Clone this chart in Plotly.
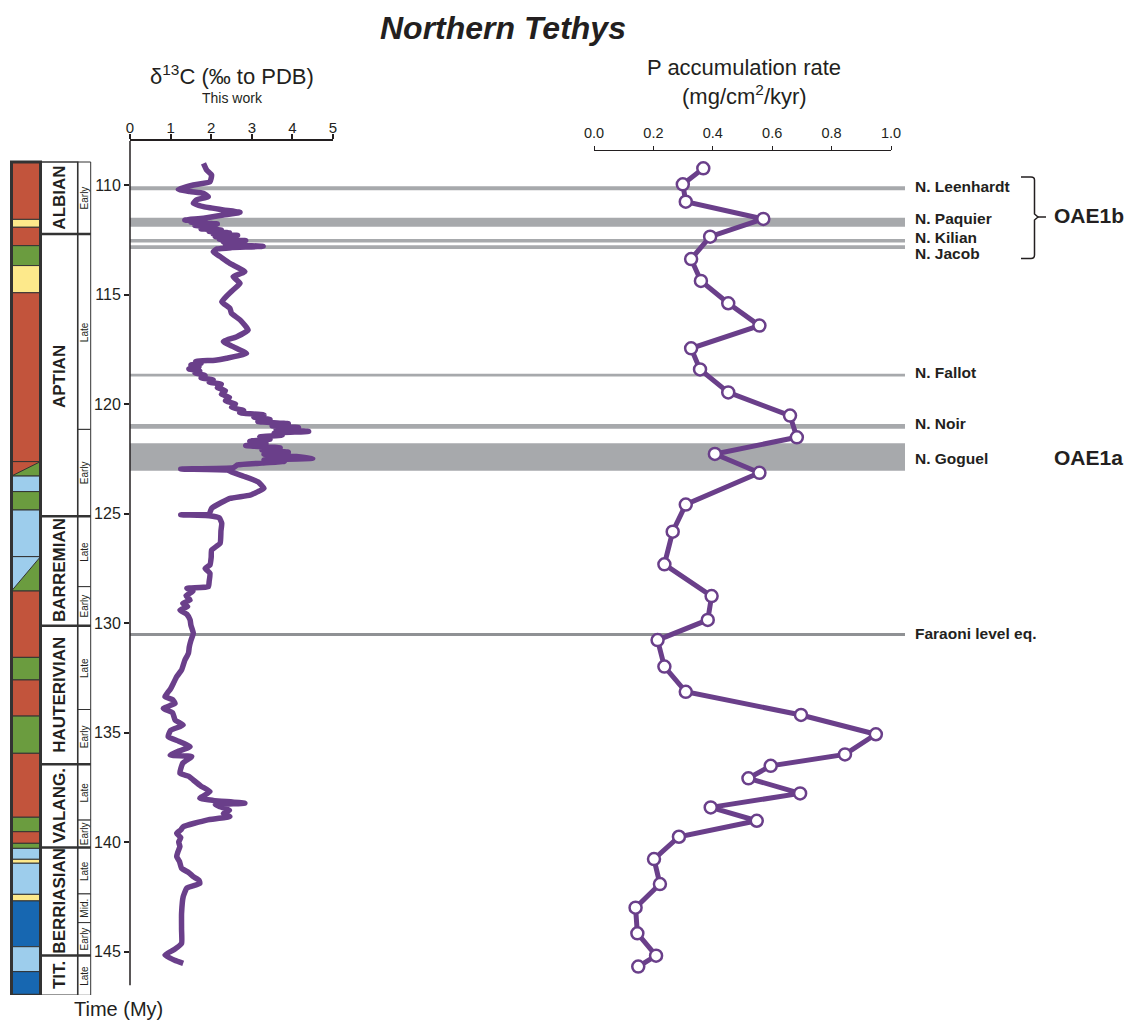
import plotly.graph_objects as go

# page body has an 8px margin; the figure is sized to fill the rest of the window
OFF = 8
W, H = 1134 - OFF, 1021 - OFF
def PX(x): return (x - OFF) / W
def PY(y): return 1 - (y - OFF) / H

INK = "#231f20"
PURPLE = "#6a3f8a"
GRAY = "#a7a9ac"
GRAY_DARK = "#8f9194"
FONT = "Liberation Sans, Arial, sans-serif"

# ---------------- data ----------------
d13c_age = [109.01, 109.32, 109.54, 109.85, 110.00, 110.20, 110.30, 110.38, 110.53, 110.68,
            110.84, 110.99, 111.14, 111.25, 111.37, 111.52, 111.60, 111.65, 111.70, 111.78,
            111.85, 111.92, 112.00, 112.06, 112.12, 112.18, 112.24, 112.30, 112.36, 112.42,
            112.48, 112.54, 112.60, 112.66, 112.72, 112.80, 112.86, 112.92, 113.05, 113.27,
            113.58, 113.96, 114.19, 114.49, 114.79, 115.33, 115.63, 115.86, 116.16, 116.62,
            116.93, 117.15, 117.38, 117.69, 117.91, 118.00, 118.05, 118.15, 118.22, 118.30,
            118.40, 118.50, 118.58, 118.70, 118.80, 118.90, 119.00, 119.10, 119.25, 119.40,
            119.55, 119.70, 119.85, 120.00, 120.15, 120.30, 120.40, 120.50, 120.60, 120.70,
            120.80, 120.90, 121.00, 121.08, 121.16, 121.25, 121.33, 121.42, 121.50, 121.60,
            121.70, 121.80, 121.90, 122.00, 122.10, 122.20, 122.30, 122.40, 122.48, 122.55,
            122.62, 122.70, 122.78, 122.90, 122.97, 123.02, 123.10, 123.30, 123.55, 123.85,
            124.00, 124.16, 124.31, 124.50, 124.76, 125.02, 125.06, 125.10, 125.20, 125.45,
            125.80, 126.36, 126.67, 127.00, 127.35, 127.50, 127.73, 128.10, 128.34, 128.42,
            128.55, 128.75, 128.95, 129.10, 129.25, 129.41, 129.60, 129.86, 130.10, 130.47,
            130.80, 131.10, 131.38, 131.70, 132.15, 132.45, 132.75, 133.00, 133.20, 133.36,
            133.50, 133.67, 133.90, 134.10, 134.43, 134.66, 134.90, 135.19, 135.40, 135.65,
            135.85, 136.03, 136.10, 136.40, 136.86, 137.00, 137.17, 137.45, 137.70, 138.00,
            138.10, 138.23, 138.30, 138.39, 138.55, 138.70, 138.84, 139.00, 139.30, 139.45,
            139.61, 139.80, 140.00, 140.21, 140.45, 140.67, 140.90, 141.20, 141.40, 141.58,
            141.75, 141.89, 142.10, 142.50, 143.26, 144.00, 144.63, 144.90, 145.16, 145.40,
            145.54]
d13c_val = [1.81, 1.89, 2.01, 1.97, 1.56, 1.19, 1.48, 1.81, 1.93, 1.64,
            1.56, 1.81, 2.30, 2.71, 2.30, 1.81, 1.35, 1.85, 1.50, 2.15,
            1.60, 2.10, 1.75, 2.25, 1.95, 2.45, 2.05, 2.65, 2.10, 2.55,
            2.20, 2.85, 2.30, 2.70, 2.35, 3.28, 2.50, 2.15, 2.05, 2.22,
            2.46, 2.83, 2.54, 2.71, 2.54, 2.26, 2.46, 2.50, 2.71, 2.91,
            2.63, 2.30, 2.54, 2.87, 2.38, 2.10, 1.62, 1.75, 1.50, 1.70,
            1.45, 1.72, 1.60, 1.85, 1.75, 2.05, 1.95, 2.25, 2.15, 2.35,
            2.25, 2.45, 2.35, 2.60, 2.50, 2.80, 2.70, 3.30, 3.05, 3.45,
            3.15, 3.90, 3.50, 4.15, 3.60, 4.40, 3.55, 3.75, 3.20, 3.45,
            2.95, 3.35, 2.85, 3.70, 3.25, 3.90, 3.30, 4.10, 4.50, 3.30,
            3.80, 3.25, 2.65, 2.55, 1.25, 2.40, 2.50, 2.80, 3.15, 3.30,
            3.15, 2.96, 2.46, 2.25, 2.01, 1.95, 1.25, 1.95, 2.20, 2.26,
            2.24, 2.22, 2.01, 2.00, 1.97, 1.85, 1.97, 1.95, 1.93, 1.40,
            1.55, 1.38, 1.48, 1.30, 1.42, 1.23, 1.40, 1.48, 1.50, 1.56,
            1.50, 1.46, 1.44, 1.35, 1.27, 1.15, 1.07, 1.00, 0.92, 0.86,
            1.05, 1.11, 0.82, 1.05, 1.11, 1.31, 1.00, 0.94, 1.20, 1.48,
            1.20, 0.99, 1.52, 1.30, 1.23, 1.45, 1.56, 1.75, 1.97, 1.72,
            2.05, 2.83, 2.10, 2.22, 2.45, 2.30, 2.46, 1.89, 1.31, 1.25,
            1.15, 1.25, 1.20, 1.23, 1.18, 1.15, 1.22, 1.27, 1.45, 1.56,
            1.70, 1.72, 1.40, 1.31, 1.27, 1.27, 1.27, 1.10, 0.86, 1.10,
            1.31]

p_age = [109.24, 109.97, 110.76, 111.55, 112.36, 113.38, 114.38, 115.40, 116.42, 117.46,
         118.42, 119.47, 120.53, 121.52, 122.28, 123.14, 124.59, 125.83, 127.32, 128.77,
         129.86, 130.78, 131.99, 133.14, 134.20, 135.08, 136.00, 136.52, 137.09, 137.78,
         138.42, 139.03, 139.76, 140.78, 141.92, 143.00, 144.17, 145.19, 145.69]
p_val = [0.368, 0.299, 0.309, 0.570, 0.391, 0.327, 0.360, 0.452, 0.557, 0.327,
         0.357, 0.452, 0.660, 0.683, 0.407, 0.557, 0.309, 0.265, 0.237, 0.396,
         0.383, 0.214, 0.237, 0.309, 0.697, 0.949, 0.845, 0.595, 0.520, 0.694,
         0.393, 0.548, 0.286, 0.202, 0.222, 0.140, 0.146, 0.209, 0.149]

event_names = ["N. Leenhardt", "N. Paquier", "N. Kilian", "N. Jacob",
               "N. Fallot", "N. Noir", "N. Goguel", "Faraoni level eq."]
event_top = [110.06, 111.50, 112.47, 112.75, 118.62, 120.91, 121.79, 130.46]
event_bottom = [110.24, 111.91, 112.63, 112.92, 118.75, 121.13, 123.05, 130.59]
event_label_age = [110.05, 111.55, 112.42, 113.15, 118.54, 120.87, 122.47, 130.46]

stage_names = ["ALBIAN", "APTIAN", "BARREMIAN", "HAUTERIVIAN", "VALANG.", "BERRIASIAN", "TIT."]
stage_bounds = [108.95, 112.24, 125.12, 130.12, 136.45, 140.25, 145.18, 147.0]
stage_label_age = [110.6, 118.75, 127.6, 133.3, 138.35, 142.7, 146.1]

substage_names = ["Early", "Late", "Early", "Late", "Early", "Late", "Early",
                  "Late", "Early", "Late", "Mid.", "Early", "Late"]
substage_bounds = [108.95, 112.24, 121.16, 125.12, 128.34, 130.12, 133.95, 136.45,
                   139.0, 140.25, 142.37, 143.68, 145.18, 147.0]

LITHO = {"marl": "#c2543c", "chalk": "#fde98b", "limestone": "#6b9c3f",
         "lightblue": "#9dcdec", "darkblue": "#1767b1"}
litho_top = [108.95, 111.57, 111.93, 112.77, 113.68, 114.92, 122.63, 123.29, 124.00, 124.84,
             126.97, 128.54, 131.57, 132.60, 134.25, 135.95, 138.87, 139.53, 140.06, 140.29,
             140.79, 140.97, 142.39, 142.69, 144.78, 145.92]
litho_bottom = [111.57, 111.93, 112.77, 113.68, 114.92, 122.63, 123.29, 124.00, 124.84, 126.97,
                128.54, 131.57, 132.60, 134.25, 135.95, 138.87, 139.53, 140.06, 140.29, 140.79,
                140.97, 142.39, 142.69, 144.78, 145.92, 147.0]
litho_kind = ["marl", "chalk", "marl", "limestone", "chalk", "marl", "limestone", "lightblue",
              "limestone", "lightblue", "limestone", "marl", "limestone", "marl", "limestone",
              "marl", "limestone", "marl", "limestone", "lightblue", "chalk", "lightblue",
              "chalk", "darkblue", "lightblue", "darkblue"]
# transitional cells (upper-left triangle colour)
litho_upper = {6: "marl", 10: "lightblue"}

# ---------------- figure ----------------
fig = go.Figure()

fig.add_trace(go.Scatter(x=d13c_val, y=d13c_age, xaxis="x", yaxis="y", mode="lines",
                         line=dict(color=PURPLE, width=5.5, shape="spline", smoothing=0.4),
                         showlegend=False, hoverinfo="skip"))
fig.add_trace(go.Scatter(x=p_val, y=p_age, xaxis="x2", yaxis="y", mode="lines+markers",
                         line=dict(color=PURPLE, width=5),
                         marker=dict(size=12, color="white", line=dict(color=PURPLE, width=2.5)),
                         showlegend=False, hoverinfo="skip"))

shapes = []
ann = []

# event bands
for i, nm in enumerate(event_names):
    col = GRAY_DARK if nm.startswith("Faraoni") else GRAY
    shapes.append(dict(type="rect", xref="paper", yref="y", x0=PX(130), x1=PX(905),
                       y0=event_top[i], y1=event_bottom[i], fillcolor=col,
                       line=dict(width=0), layer="below"))
    ann.append(dict(text="<b>%s</b>" % nm, xref="paper", yref="y", x=PX(913),
                    y=event_label_age[i], xanchor="left", yanchor="middle", showarrow=False,
                    font=dict(size=15.5, color=INK, family=FONT)))

# y axis line
shapes.append(dict(type="line", xref="paper", yref="y", x0=PX(130), x1=PX(130),
                   y0=107.99, y1=146.54, line=dict(color=INK, width=1.5)))

# lithology column
LX0, LX1 = PX(11.5), PX(40.5)
for i in range(len(litho_top)):
    shapes.append(dict(type="rect", xref="paper", yref="y", x0=LX0, x1=LX1,
                       y0=litho_top[i], y1=litho_bottom[i],
                       fillcolor=LITHO[litho_kind[i]], line=dict(color="#333333", width=1)))
    if i in litho_upper:
        t, b = litho_top[i], litho_bottom[i]
        shapes.append(dict(type="path", xref="paper", yref="y",
                           path="M %f,%f L %f,%f L %f,%f Z" % (LX0, t, LX1, t, LX0, b),
                           fillcolor=LITHO[litho_upper[i]], line=dict(color="#333333", width=1)))
shapes.append(dict(type="rect", xref="paper", yref="y", x0=LX0, x1=LX1,
                   y0=stage_bounds[0], y1=stage_bounds[-1], line=dict(color="#333333", width=3)))

# stage & substage columns
SX0, SX1, SUBX1 = PX(40.7), PX(77.7), PX(90.7)
for i in range(len(substage_names)):
    shapes.append(dict(type="rect", xref="paper", yref="y", x0=SX1, x1=SUBX1,
                       y0=substage_bounds[i], y1=substage_bounds[i + 1],
                       fillcolor="white", line=dict(color="#333333", width=1)))
    ann.append(dict(text=substage_names[i], xref="paper", yref="y", x=PX(84.4),
                    y=(substage_bounds[i] + substage_bounds[i + 1]) / 2, textangle=-90,
                    xanchor="center", yanchor="middle",
                    showarrow=False, font=dict(size=10, color=INK, family=FONT)))
shapes.append(dict(type="rect", xref="paper", yref="y", x0=SX0, x1=SX1,
                   y0=stage_bounds[0], y1=stage_bounds[-1], line=dict(color="#333333", width=1.5)))
for b in stage_bounds[1:-1]:
    shapes.append(dict(type="line", xref="paper", yref="y", x0=SX0, x1=SUBX1, y0=b, y1=b,
                       line=dict(color="#333333", width=2.5)))
for i, nm in enumerate(stage_names):
    ann.append(dict(text="<b>%s</b>" % nm, xref="paper", yref="y", x=PX(59.5),
                    y=stage_label_age[i], textangle=-90, showarrow=False,
                    xanchor="center", yanchor="middle",
                    font=dict(size=17, color=INK, family=FONT)))

# bracket OAE1b
shapes.append(dict(type="path", xref="paper", yref="paper",
                   path=("M %f,%f L %f,%f Q %f,%f %f,%f L %f,%f L %f,%f L %f,%f L %f,%f "
                         "Q %f,%f %f,%f L %f,%f") % (
                       PX(1021), PY(177), PX(1031), PY(177), PX(1034.5), PY(177), PX(1034.5), PY(180),
                       PX(1034.5), PY(214), PX(1038), PY(217), PX(1034.5), PY(220),
                       PX(1034.5), PY(255), PX(1034.5), PY(258.5), PX(1031), PY(258.5),
                       PX(1021), PY(258.5)),
                   line=dict(color=INK, width=1.5)))
shapes.append(dict(type="line", xref="paper", yref="paper", x0=PX(1037), x1=PX(1046),
                   y0=PY(217), y1=PY(217), line=dict(color=INK, width=1.5)))

def txt(s, x, y, size, xa="center", ya="middle"):
    return dict(text=s, xref="paper", yref="paper", x=PX(x), y=PY(y), xanchor=xa,
                yanchor=ya, showarrow=False, font=dict(size=size, color=INK, family=FONT))

ann += [
    txt("<b><i>Northern Tethys</i></b>", 503, 8, 32, ya="top"),
    txt("δ<sup>13</sup>C (‰ to PDB)", 232, 75, 22),
    txt("This work", 232, 98, 14),
    txt("P accumulation rate", 744, 67, 22),
    txt("(mg/cm<sup>2</sup>/kyr)", 744, 95, 22),
    txt("Time (My)", 118, 1009, 20),
    txt("<b>OAE1b</b>", 1052, 215, 21, "left"),
    txt("<b>OAE1a</b>", 1052, 457, 21, "left"),
]

fig.update_layout(
    template="none",
    width=W, height=H, margin=dict(l=0, r=0, t=0, b=0, pad=0),
    paper_bgcolor="white", plot_bgcolor="rgba(0,0,0,0)",
    font=dict(family=FONT, color=INK),
    showlegend=False,
    xaxis=dict(domain=[PX(130), PX(333)], range=[0, 5], side="top", anchor="y",
               tickvals=[0, 1, 2, 3, 4, 5], showline=True, linecolor=INK, linewidth=1.5,
               ticks="outside", ticklen=5, tickwidth=1.5, tickcolor=INK, automargin=False,
               ticklabelstandoff=-5,
               showgrid=False, zeroline=False, tickfont=dict(size=15, color=INK)),
    xaxis2=dict(domain=[PX(594), PX(891)], range=[0, 1], side="top", anchor="free",
                position=PY(150), tickvals=[0, 0.2, 0.4, 0.6, 0.8, 1.0],
                ticktext=["0.0", "0.2", "0.4", "0.6", "0.8", "1.0"],
                showline=True, linecolor=INK, linewidth=1.2, ticks="outside", ticklen=4,
                tickwidth=1.2, tickcolor=INK, showgrid=False, zeroline=False, automargin=False,
                ticklabelstandoff=2,
                tickfont=dict(size=14.5, color=INK)),
    yaxis=dict(domain=[PY(995), PY(141)], range=[146.986, 107.991], anchor="x",
               tickvals=[110, 115, 120, 125, 130, 135, 140, 145], showline=False,
               ticks="outside", ticklen=5, tickwidth=1.5, tickcolor=INK, automargin=False,
               showgrid=False, zeroline=False, tickfont=dict(size=16, color=INK)),
    shapes=shapes, annotations=ann,
)

fig.write_html("out.html")
